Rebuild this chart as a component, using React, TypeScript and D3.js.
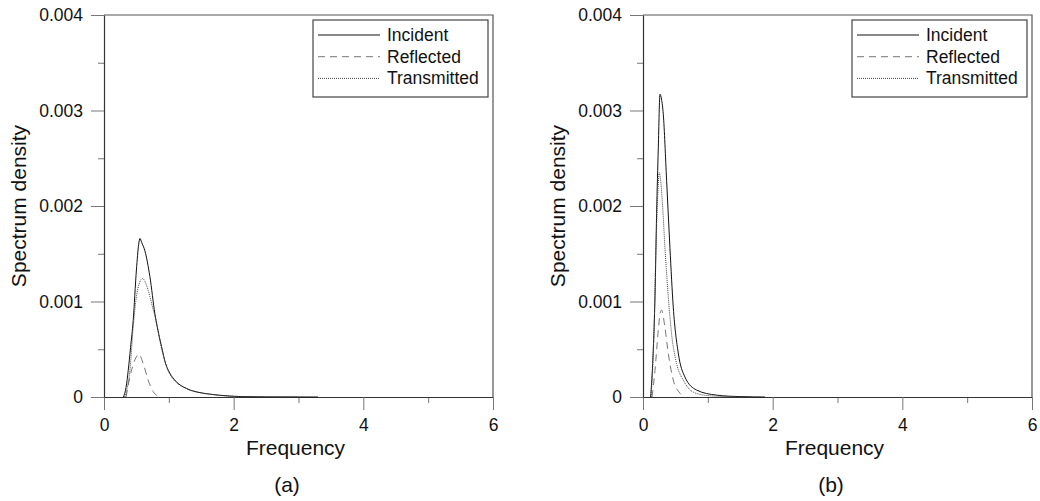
import { useEffect, useRef } from "react";
import * as d3 from "d3";

// [frequency, spectrum density]
const incidentA: [number, number][] = [
  [0.30, 0], [0.34, 0.0001], [0.374, 0.00028], [0.41, 0.00052], [0.45, 0.0008],
  [0.50, 0.00133], [0.535, 0.0016], [0.555, 0.00166], [0.58, 0.00162], [0.631, 0.00153],
  [0.708, 0.00126], [0.785, 0.00087], [0.85, 0.00064], [0.887, 0.00053], [0.95, 0.00035],
  [1.015, 0.00025], [1.1, 0.00017], [1.27, 0.00009], [1.45, 0.00005], [1.63, 0.00003],
  [1.9, 0.000012], [2.14, 0.000004], [2.5, 0.000001], [3.3, 0],
];
const reflectedA: [number, number][] = [
  [0.34, 0], [0.40, 0.00021], [0.477, 0.00039], [0.538, 0.000446], [0.605, 0.00035],
  [0.68, 0.000178], [0.76, 0.000055], [0.83, 0.00001], [0.89, 0],
];
const transmittedA: [number, number][] = [
  [0.32, 0], [0.36, 0.0001], [0.40, 0.00028], [0.45, 0.00073], [0.50, 0.00105],
  [0.55, 0.0012], [0.595, 0.00124], [0.656, 0.00117], [0.708, 0.00105], [0.76, 0.00091],
  [0.80, 0.00081], [0.887, 0.00051], [1.015, 0.00024], [1.27, 0.000088], [1.63, 0.00003],
  [2.14, 0.000004], [3.0, 0],
];

const incidentB: [number, number][] = [
  [0.118, 0], [0.149, 0.00035], [0.185, 0.00105], [0.21, 0.00192], [0.236, 0.00261],
  [0.262, 0.00317], [0.285, 0.00312], [0.313, 0.00296], [0.364, 0.00227], [0.415, 0.00157],
  [0.467, 0.00094], [0.544, 0.00046], [0.646, 0.00021], [0.826, 0.000073], [1.13, 0.00002],
  [1.5, 0.000004], [1.88, 0],
];
const reflectedB: [number, number][] = [
  [0.14, 0], [0.185, 0.00028], [0.236, 0.0007], [0.265, 0.00088], [0.287, 0.00091],
  [0.338, 0.00073], [0.39, 0.000456], [0.467, 0.000178], [0.57, 0.00004], [0.65, 0],
];
const transmittedB: [number, number][] = [
  [0.125, 0], [0.17, 0.0007], [0.20, 0.00157], [0.23, 0.00215], [0.251, 0.00235],
  [0.275, 0.00225], [0.303, 0.00199], [0.338, 0.00157], [0.39, 0.00105], [0.44, 0.000665],
  [0.518, 0.00035], [0.62, 0.000178], [0.78, 0.00005], [1.0, 0.000015], [1.4, 0.000003],
  [1.7, 0],
];

const seriesNames = ["Incident", "Reflected", "Transmitted"];
const xMajor = [0, 2, 4, 6];
const xMinor = [1, 3, 5];
const yMajor = [0, 0.001, 0.002, 0.003, 0.004];
const yMinor = [0.0005, 0.0015, 0.0025, 0.0035];

const FONT = "'Liberation Sans', Arial, sans-serif";
const lineStyles = [
  { stroke: "#111", dash: null, width: 1 },
  { stroke: "#777", dash: "7,5", width: 1 },
  { stroke: "#444", dash: "1,1", width: 1 },
];

export default function App() {
  const svgRef = useRef<SVGSVGElement>(null);

  useEffect(() => {
    if (!svgRef.current) return;
    const svg = d3.select(svgRef.current);
    svg.selectAll("*").remove();

    const panels = [
      { left: 104, right: 493, data: [incidentA, reflectedA, transmittedA], tag: "(a)", tagX: 287 },
      { left: 643, right: 1032, data: [incidentB, reflectedB, transmittedB], tag: "(b)", tagX: 831 },
    ];
    const top = 15;
    const bottom = 397;

    panels.forEach((p) => {
      const x = d3.scaleLinear().domain([0, 6]).range([p.left, p.right]);
      const y = d3.scaleLinear().domain([0, 0.004]).range([bottom, top]);
      const g = svg.append("g");

      // frame top/right
      g.append("path")
        .attr("d", `M${p.left},${top}H${p.right}V${bottom}`)
        .attr("fill", "none")
        .attr("stroke", "#555")
        .attr("stroke-width", 1.2);

      // minor ticks
      const xm = g.append("g")
        .attr("transform", `translate(0,${bottom})`)
        .call(d3.axisBottom(x).tickValues(xMinor).tickSize(6).tickFormat(() => "").tickSizeOuter(0));
      xm.select(".domain").remove();
      const ym = g.append("g")
        .attr("transform", `translate(${p.left},0)`)
        .call(d3.axisLeft(y).tickValues(yMinor).tickSize(6).tickFormat(() => "").tickSizeOuter(0));
      ym.select(".domain").remove();

      // major axes
      const xa = g.append("g")
        .attr("transform", `translate(0,${bottom})`)
        .call(
          d3.axisBottom(x).tickValues(xMajor).tickSize(13).tickPadding(9).tickSizeOuter(0)
            .tickFormat((d) => String(+d))
        );
      const ya = g.append("g")
        .attr("transform", `translate(${p.left},0)`)
        .call(
          d3.axisLeft(y).tickValues(yMajor).tickSize(13).tickPadding(8).tickSizeOuter(0)
            .tickFormat((d) => (+d === 0 ? "0" : d3.format(".3f")(+d)))
        );
      [xa, ya].forEach((a) => {
        a.select(".domain").attr("stroke", "#333").attr("stroke-width", 1.2);
        a.selectAll("text").attr("font-family", FONT).attr("font-size", 17.5).attr("fill", "#111");
      });
      [xa, ya, xm, ym].forEach((a) => a.selectAll(".tick line").attr("stroke", "#777"));

      // curves
      const line = d3.line<[number, number]>()
        .x((d) => x(d[0]))
        .y((d) => y(d[1]))
        .curve(d3.curveMonotoneX);
      p.data.forEach((s, i) => {
        const st = lineStyles[i];
        g.append("path")
          .datum(s)
          .attr("d", line)
          .attr("fill", "none")
          .attr("stroke", st.stroke)
          .attr("stroke-width", st.width)
          .attr("stroke-dasharray", st.dash);
      });

      // legend
      const lx = p.right - 180;
      const lg = g.append("g").attr("transform", `translate(${lx},20)`);
      lg.append("rect")
        .attr("width", 175)
        .attr("height", 77)
        .attr("fill", "#fff")
        .attr("stroke", "#444")
        .attr("stroke-width", 1.2);
      seriesNames.forEach((name, i) => {
        const st = lineStyles[i];
        const ry = 15 + i * 21.7;
        lg.append("line")
          .attr("x1", 5).attr("x2", 67)
          .attr("y1", ry).attr("y2", ry)
          .attr("stroke", st.stroke)
          .attr("stroke-width", st.width)
          .attr("stroke-dasharray", st.dash);
        lg.append("text")
          .attr("x", 74)
          .attr("y", ry + 6)
          .attr("font-family", FONT)
          .attr("font-size", 17.5)
          .attr("fill", "#111")
          .text(name);
      });

      // titles
      g.append("text")
        .attr("x", (p.left + p.right) / 2 - 3)
        .attr("y", 455)
        .attr("text-anchor", "middle")
        .attr("font-family", FONT)
        .attr("font-size", 21)
        .attr("fill", "#111")
        .text("Frequency");
      g.append("text")
        .attr("transform", `translate(${p.left - 78},${(top + bottom) / 2}) rotate(-90)`)
        .attr("text-anchor", "middle")
        .attr("font-family", FONT)
        .attr("font-size", 21)
        .attr("fill", "#111")
        .text("Spectrum density");
      g.append("text")
        .attr("x", p.tagX)
        .attr("y", 492)
        .attr("text-anchor", "middle")
        .attr("font-family", FONT)
        .attr("font-size", 21)
        .attr("fill", "#111")
        .text(p.tag);
    });
  }, []);

  return (
    <div style={{ position: "absolute", left: 0, top: 0 }}>
      <svg ref={svgRef} width={1040} height={501} style={{ display: "block", background: "#fff" }}></svg>
    </div>
  );
}
